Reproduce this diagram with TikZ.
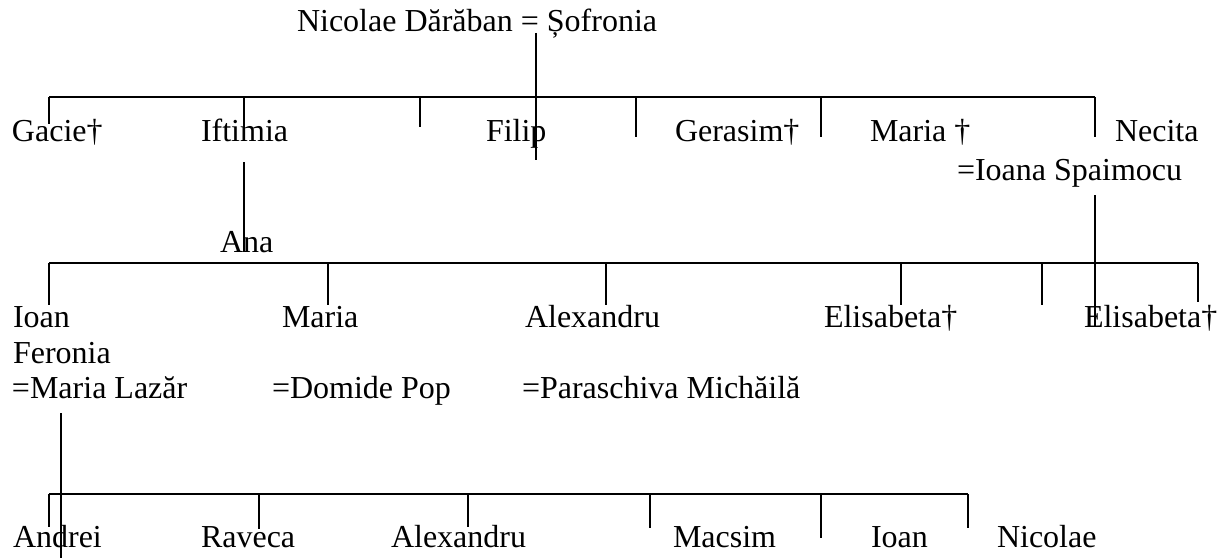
\documentclass[tikz,border=0pt]{standalone}
\usepackage{fontspec}
\setmainfont{Liberation Serif}
\begin{document}
\begin{tikzpicture}[x=1pt,y=-1pt,
  lbl/.style={anchor=base west,inner sep=0pt,outer sep=0pt,font=\fontsize{32}{38}\selectfont},
  ln/.style={line width=2pt,black,line cap=butt}]
\useasboundingbox (0,0) rectangle (1223,559);
% texts
\node[lbl] (parents) at (297,32) {Nicolae Dărăban = Șofronia};
\node[lbl] (gacie) at (12,142) {Gacie†};
\node[lbl] (iftimia) at (201,142) {Iftimia};
\node[lbl] (filip) at (486,142) {Filip};
\node[lbl] (gerasim) at (675,142) {Gerasim†};
\node[lbl] (maria1) at (870,142) {Maria †};
\node[lbl] (necita) at (1115,142) {Necita};
\node[lbl] (ioana) at (957,180) {=Ioana Spaimocu};
\node[lbl] (ana) at (220,252) {Ana};
\node[lbl] (ioan1) at (13,327) {Ioan};
\node[lbl] (feronia) at (13,363) {Feronia};
\node[lbl] (lazar) at (12,398) {=Maria Lazăr};
\node[lbl] (maria2) at (282,327) {Maria};
\node[lbl] (domide) at (272,398) {=Domide Pop};
\node[lbl] (alex1) at (525,327) {Alexandru};
\node[lbl] (parasc) at (522,398) {=Paraschiva Michăilă};
\node[lbl] (elis1) at (824,327) {Elisabeta†};
\node[lbl] (elis2) at (1084,327) {Elisabeta†};
\node[lbl] (andrei) at (13,547) {Andrei};
\node[lbl] (raveca) at (201,547) {Raveca};
\node[lbl] (alex2) at (391,547) {Alexandru};
\node[lbl] (macsim) at (673,547) {Macsim};
\node[lbl] (ioan2) at (871,547) {Ioan};
\node[lbl] (nicolae) at (997,547) {Nicolae};
% descent lines
\coordinate (d1a) at (536,33);   \coordinate (d1b) at (536,160);
\coordinate (d2a) at (244,162);  \coordinate (d2b) at (244,252);
\coordinate (d3a) at (1095,195); \coordinate (d3b) at (1095,327);
\coordinate (d4a) at (61,413);   \coordinate (d4b) at (61,558);
\draw[ln] (d1a) -- (d1b);
\draw[ln] (d2a) -- (d2b);
\draw[ln] (d3a) -- (d3b);
\draw[ln] (d4a) -- (d4b);
% sibling bars
\coordinate (b1l) at (49,97);  \coordinate (b1r) at (1095,97);
\coordinate (b2l) at (49,263); \coordinate (b2r) at (1198,263);
\coordinate (b3l) at (49,494); \coordinate (b3r) at (968,494);
\draw[ln] (b1l) -- (b1r);
\draw[ln] (b2l) -- (b2r);
\draw[ln] (b3l) -- (b3r);
% ticks
\foreach \x/\e [count=\i] in {49/124,244/128,420/127,636/137,821/137,1095/137}{
  \coordinate (ta\i) at (\x,97); \coordinate (tb\i) at (\x,\e);
  \draw[ln] (ta\i) -- (tb\i);}
\foreach \x/\e [count=\i] in {49/305,328/305,606/305,901/305,1042/305,1198/302}{
  \coordinate (ua\i) at (\x,263); \coordinate (ub\i) at (\x,\e);
  \draw[ln] (ua\i) -- (ub\i);}
\foreach \x/\e [count=\i] in {49/527,259/529,468/527,650/528,821/538,968/528}{
  \coordinate (va\i) at (\x,494); \coordinate (vb\i) at (\x,\e);
  \draw[ln] (va\i) -- (vb\i);}
\end{tikzpicture}
\end{document}
